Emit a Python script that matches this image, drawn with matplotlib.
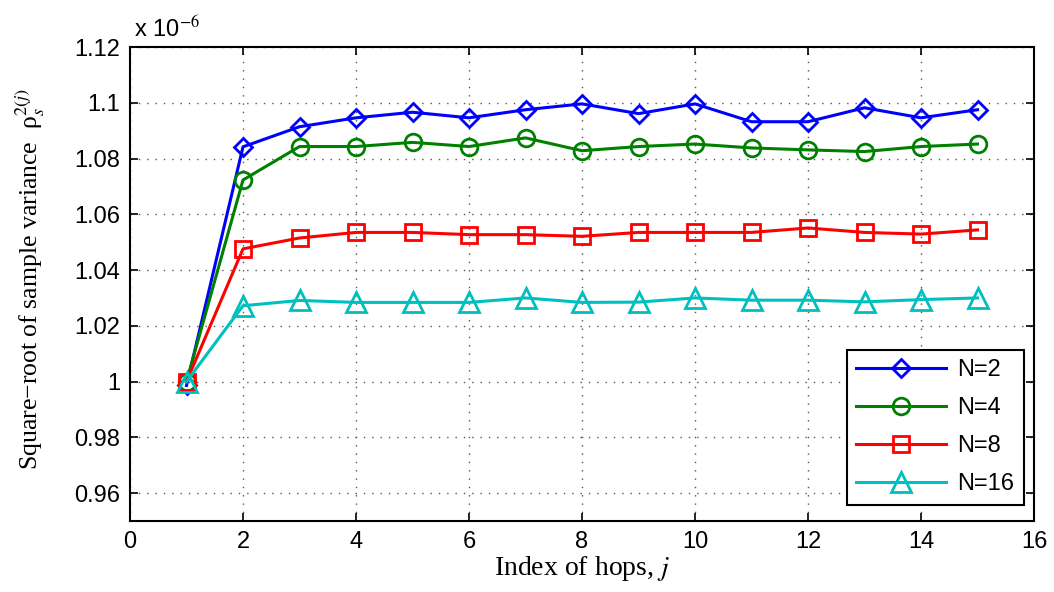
import numpy as np
import matplotlib
matplotlib.use("Agg")
import matplotlib.pyplot as plt

# Indice dos saltos
hops = np.arange(1, 16)

# Valores (escala x 10^-6)
var_n2 = [0.9986, 1.0842, 1.0914, 1.0946, 1.0966, 1.0946, 1.0975, 1.0996,
          1.0961, 1.0996, 1.0932, 1.0932, 1.0982, 1.0946, 1.0975]
var_n4 = [1.0000, 1.0723, 1.0843, 1.0843, 1.0858, 1.0843, 1.0874, 1.0828,
          1.0843, 1.0852, 1.0838, 1.0831, 1.0825, 1.0843, 1.0852]
var_n8 = [1.0000, 1.0476, 1.0515, 1.0535, 1.0535, 1.0527, 1.0527, 1.0521,
          1.0535, 1.0535, 1.0535, 1.0551, 1.0535, 1.0529, 1.0544]
var_n16 = [1.0000, 1.0272, 1.0291, 1.0284, 1.0284, 1.0284, 1.0300, 1.0284,
           1.0285, 1.0300, 1.0292, 1.0292, 1.0286, 1.0294, 1.0300]

series_labels = ["N=2", "N=4", "N=8", "N=16"]
x_ticks = np.arange(0, 17, 2)
y_ticks = [0.96, 0.98, 1.0, 1.02, 1.04, 1.06, 1.08, 1.1, 1.12]
y_tick_labels = ["0.96", "0.98", "1", "1.02", "1.04", "1.06", "1.08", "1.1", "1.12"]

plt.rcParams["font.family"] = "Liberation Sans"
plt.rcParams["mathtext.fontset"] = "stix"

fig = plt.figure(figsize=(10.54, 5.92), dpi=100)
ax = fig.add_axes([130 / 1054, 1 - 521 / 592, 904 / 1054, 474 / 592])

estilos = [
    ("#0000ff", "D", 9.5),
    ("#008000", "o", 12),
    ("#ff0000", "s", 12),
    ("#00bfbf", "^", 14),
]
for vals, lab, (cor, mk, ms) in zip([var_n2, var_n4, var_n8, var_n16], series_labels, estilos):
    ax.plot(hops, vals, color=cor, marker=mk, markersize=ms, markerfacecolor="none",
            markeredgewidth=2, linewidth=2.2, label=lab)

ax.set_xlim(0, 16)
ax.set_ylim(0.95, 1.12)
ax.set_xticks(x_ticks)
ax.set_yticks(y_ticks)
ax.set_yticklabels(y_tick_labels)
ax.tick_params(direction="in", length=6, width=1.2, labelsize=17, top=True, right=True, pad=7)
for s in ax.spines.values():
    s.set_linewidth(1.5)
ax.grid(True, linestyle=(0, (1, 5)), color="#555555", linewidth=1)

ax.set_xlabel(r"Index of hops, $j$", family="Liberation Serif", fontsize=20, labelpad=1)
ax.set_ylabel("Square\u2212root of sample variance  \u03c1$_{s}^{2(j)}$",
              family="Liberation Serif", fontsize=18.5)
ax.yaxis.set_label_coords(-0.092, 0.51)

ax.text(0.004, 1.01, r"x 10$^{-6}$", transform=ax.transAxes, fontsize=17,
        ha="left", va="bottom")

leg = ax.legend(loc="lower right", bbox_to_anchor=(0.989, 0.034), borderaxespad=0,
                fontsize=17, handlelength=3.8, fancybox=False, framealpha=1,
                edgecolor="black", labelspacing=0.68, handletextpad=0.5)
leg.get_frame().set_linewidth(1.5)

plt.savefig("out.png", dpi=100)
